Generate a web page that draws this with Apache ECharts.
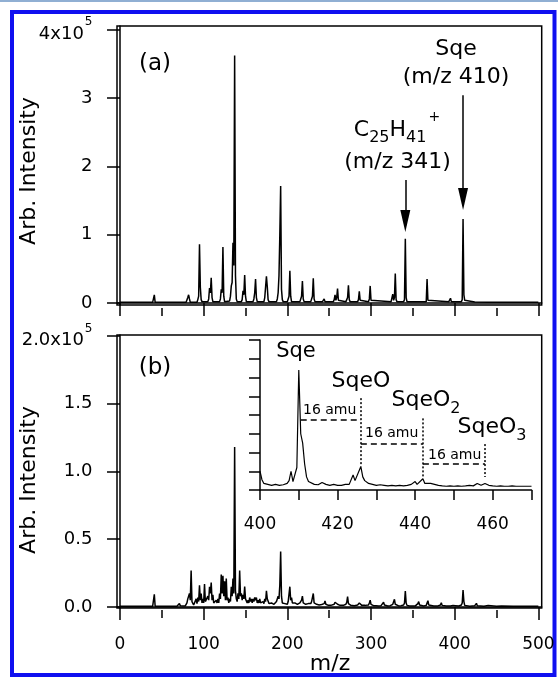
<!DOCTYPE html>
<html>
<head>
<meta charset="utf-8">
<script src="https://cdn.jsdelivr.net/npm/echarts@6/dist/echarts.min.js"></script>
<style>
html, body { margin: 0; padding: 0; background: #fff; }
#main { width: 558px; height: 678px; }
</style>
</head>
<body>
<div id="main"></div>
<script>
// (a) spectrum, [m/z, intensity in 1e5]
var specA = [
  [0,0.01],[39,0.01],[40,0.02],[41,0.12],[42,0.01],[68,0.01],[69,0.02],[70,0.01],
  [79,0.01],[80,0.03],[81,0.08],[82,0.12],[83,0.06],[84,0.01],
  [92,0.01],[93,0.05],[94,0.1],[95,0.86],[96,0.23],[97,0.05],[98,0.02],
  [105,0.02],[106,0.06],[107,0.22],[108,0.15],[109,0.37],[110,0.08],[111,0.02],
  [119,0.02],[120,0.06],[121,0.2],[122,0.15],[123,0.82],[124,0.1],[125,0.02],
  [131,0.03],[132,0.1],[133,0.25],[134,0.3],[135,0.88],[136,0.55],[137,3.62],[138,0.4],[139,0.06],[140,0.02],
  [145,0.02],[146,0.05],[147,0.18],[148,0.12],[149,0.41],[150,0.1],[151,0.02],
  [159,0.02],[160,0.06],[161,0.15],[162,0.35],[163,0.08],[164,0.02],
  [172,0.02],[173,0.08],[174,0.1],[175,0.39],[176,0.24],[177,0.05],[178,0.02],
  [187,0.02],[188,0.06],[189,0.15],[190,0.4],[191,0.99],[192,1.71],[193,0.2],[194,0.05],[195,0.02],
  [200,0.02],[201,0.06],[202,0.1],[203,0.47],[204,0.1],[205,0.02],
  [215,0.02],[216,0.06],[217,0.1],[218,0.32],[219,0.06],[220,0.02],
  [228,0.02],[229,0.06],[230,0.1],[231,0.36],[232,0.06],[233,0.02],
  [242,0.02],[243,0.03],[244,0.06],[245,0.02],
  [255,0.02],[256,0.05],[257,0.12],[258,0.04],[259,0.08],[260,0.21],[261,0.04],[262,0.02],
  [270,0.02],[271,0.05],[272,0.08],[273,0.26],[274,0.05],[275,0.02],
  [284,0.02],[285,0.05],[286,0.17],[287,0.04],[288,0.02],
  [297,0.02],[298,0.06],[299,0.25],[300,0.04],[301,0.02],
  [324,0.02],[325,0.04],[326,0.13],[327,0.04],[328,0.08],[329,0.43],[330,0.05],[331,0.02],
  [339,0.02],[340,0.05],[341,0.94],[342,0.08],[343,0.02],
  [353,0.02],[354,0.04],[355,0.02],[366,0.02],[367,0.35],[368,0.04],[369,0.02],
  [393,0.02],[394,0.03],[395,0.07],[396,0.02],
  [408,0.02],[409,0.05],[410,1.23],[411,0.12],[412,0.04],[413,0.02],
  [424,0.015],[425,0.03],[426,0.012],[440,0.01],[500,0.01]
];

// (b) spectrum, [m/z, intensity in 1e5]
var specB = [
  [0,0.005],[39,0.005],[40,0.01],[41,0.094],[42,0.005],[68,0.005],[69,0.015],[70,0.01],[71,0.025],[72,0.01],[73,0.005],
  [78,0.008],[79,0.02],[80,0.03],[81,0.06],[82,0.08],[83,0.1],[84,0.05],[85,0.27],[86,0.04],[87,0.03],[88,0.015],
  [89,0.02],[90,0.015],[91,0.06],[92,0.025],[93,0.07],[94,0.04],[95,0.16],[96,0.05],[97,0.1],[98,0.03],[99,0.06],
  [100,0.03],[101,0.17],[102,0.04],[103,0.05],[104,0.03],[105,0.08],[106,0.05],[107,0.15],[108,0.1],[109,0.18],
  [110,0.05],[111,0.09],[112,0.03],[113,0.04],[114,0.02],[115,0.05],[116,0.03],[117,0.06],[118,0.03],[119,0.1],
  [120,0.06],[121,0.24],[122,0.1],[123,0.23],[124,0.08],[125,0.19],[126,0.05],[127,0.21],[128,0.05],[129,0.07],
  [130,0.03],[131,0.06],[132,0.04],[133,0.15],[134,0.08],[135,0.21],[136,0.1],[137,1.18],[138,0.12],[139,0.06],
  [140,0.04],[141,0.1],[142,0.06],[143,0.27],[144,0.08],[145,0.1],[146,0.05],[147,0.09],[148,0.06],[149,0.15],
  [150,0.06],[151,0.05],[152,0.03],[153,0.05],[154,0.03],[155,0.07],[156,0.04],[157,0.06],[158,0.03],[159,0.06],
  [160,0.04],[161,0.07],[162,0.05],[163,0.07],[164,0.03],[165,0.05],[166,0.03],[167,0.06],[168,0.03],[169,0.04],
  [170,0.03],[171,0.04],[172,0.025],[173,0.06],[174,0.04],[175,0.12],[176,0.06],[177,0.05],[178,0.025],[179,0.03],
  [180,0.02],[181,0.03],[182,0.02],[183,0.03],[184,0.02],[185,0.03],[186,0.025],[187,0.04],[188,0.03],[189,0.08],
  [190,0.06],[191,0.16],[192,0.41],[193,0.08],[194,0.03],[195,0.025],[196,0.02],[197,0.025],[198,0.02],[199,0.03],
  [200,0.02],[201,0.04],[202,0.03],[203,0.15],[204,0.05],[205,0.07],[206,0.03],[207,0.04],[208,0.025],[209,0.03],
  [210,0.02],[211,0.03],[212,0.02],[213,0.025],[214,0.02],[215,0.03],[216,0.03],[217,0.05],[218,0.08],[219,0.03],
  [220,0.02],[221,0.025],[222,0.02],[223,0.03],[224,0.02],[225,0.025],[226,0.02],[227,0.02],[228,0.025],[229,0.04],
  [230,0.035],[231,0.1],[232,0.03],[233,0.02],[234,0.018],[235,0.02],[236,0.015],[237,0.018],[238,0.015],[239,0.02],
  [240,0.015],[241,0.018],[242,0.02],[243,0.03],[244,0.025],[245,0.044],[246,0.02],[247,0.015],[248,0.015],[249,0.012],
  [250,0.015],[252,0.012],[254,0.015],[256,0.02],[257,0.035],[258,0.025],[259,0.046],[260,0.02],[261,0.015],
  [263,0.012],[265,0.015],[267,0.012],[269,0.015],[270,0.02],[271,0.035],[272,0.076],[273,0.025],[274,0.015],
  [276,0.012],[278,0.012],[280,0.01],[282,0.012],[284,0.015],[285,0.025],[286,0.03],[287,0.04],[288,0.02],[289,0.012],
  [291,0.01],[293,0.012],[295,0.01],[297,0.015],[298,0.03],[299,0.05],[300,0.02],[301,0.012],[303,0.01],[306,0.01],
  [309,0.008],[312,0.01],[314,0.015],[315,0.035],[316,0.015],[317,0.01],[320,0.008],[323,0.01],[326,0.02],[327,0.03],
  [328,0.057],[329,0.02],[330,0.01],[333,0.008],[336,0.01],[339,0.015],[340,0.03],[341,0.118],[342,0.03],[343,0.012],
  [346,0.008],[350,0.008],[353,0.008],[355,0.015],[356,0.025],[357,0.04],[358,0.015],[359,0.008],[363,0.008],
  [366,0.012],[367,0.025],[368,0.046],[369,0.015],[370,0.008],[375,0.007],[380,0.008],[383,0.015],[384,0.032],
  [385,0.012],[386,0.007],[390,0.007],[395,0.008],[398,0.012],[399,0.015],[400,0.022],[401,0.01],[405,0.007],
  [408,0.015],[409,0.03],[410,0.125],[411,0.04],[412,0.012],[413,0.007],[418,0.006],[424,0.01],[425,0.015],
  [426,0.027],[427,0.01],[428,0.006],[435,0.006],[440,0.012],[441,0.006],[450,0.005],[456,0.008],[457,0.005],
  [470,0.005],[485,0.005],[500,0.005]
];

// inset, m/z 400-470, arbitrary units
var insetSpec = [
  [400,1.0],[400.5,0.55],[401,0.35],[402,0.3],[403,0.25],[404,0.3],[405,0.25],[406,0.28],[407,0.35],[407.5,0.5],
  [408,1.0],[408.5,0.45],[409,0.4],[409.5,1.2],[410,6.4],[410.5,3.0],[411,2.5],[411.5,1.4],[412,0.7],[412.5,0.45],
  [413,0.35],[414,0.3],[415,0.28],[416,0.4],[417,0.3],[418,0.25],[419,0.3],[420,0.25],[421,0.25],[422,0.3],
  [423,0.3],[424,0.8],[424.5,0.5],[425,0.45],[426,1.25],[426.5,0.7],[427,0.5],[428,0.35],[429,0.3],[430,0.25],
  [431,0.28],[432,0.25],[433,0.22],[434,0.25],[435,0.22],[436,0.25],[437,0.22],[438,0.25],[439,0.3],[440,0.45],
  [440.5,0.3],[441,0.3],[442,0.6],[442.5,0.35],[443,0.3],[444,0.35],[445,0.3],[446,0.25],[447,0.22],[448,0.2],
  [449,0.22],[450,0.2],[451,0.22],[452,0.2],[453,0.22],[454,0.25],[455,0.22],[456,0.35],[457,0.25],[458,0.35],
  [459,0.25],[460,0.22],[461,0.2],[462,0.22],[463,0.2],[464,0.2],[465,0.22],[466,0.2],[467,0.2],[468,0.2],
  [469,0.2],[470,0.2]
];

var majorTicks = [0, 100, 200, 300, 400, 500];
var minorTicks = [50, 150, 250, 350, 450];
var ticksA = [0, 1, 2, 3, 4];
var ticksB = [0, 0.5, 1, 1.5, 2];
var insetXTicks = [400, 410, 420, 430, 440, 450, 460, 470];
var insetXLabels = [400, 420, 440, 460];
var insetYTicks = [0, 1, 2, 3, 4, 5, 6, 7, 8];

// arrows in (a): [m/z, from, to]
var arrows = [[410, 3.04, 1.52], [341, 1.80, 1.20]];
// inset 16 amu brackets
var amuH = [[410.5, 426, 3.73], [426, 442, 2.49], [442, 458, 1.39]];
var amuV = [[426, 4.9, 1.25], [442, 3.82, 0.7], [458, 2.45, 0.7]];

var FONT = 'DejaVu Sans';
var chart = echarts.init(document.getElementById('main'));

function xAx(grid, ticks, len, opts) {
  var a = {
    type: 'value', gridIndex: grid, min: -3.6, max: 504, position: 'bottom',
    offset: opts.offset,
    axisLine: { show: opts.line, lineStyle: { color: '#000', width: 1.5 } },
    axisTick: { show: true, inside: false, length: len, customValues: ticks, lineStyle: { color: '#000', width: 1.5 } },
    axisLabel: { show: false },
    splitLine: { show: false }
  };
  if (opts.labels) {
    a.axisLabel = { show: true, customValues: ticks, color: '#000', fontSize: 17, fontFamily: FONT, margin: 26 };
  }
  return a;
}

// equal-height boxes so the raise does not depend on token alignment
var supRich = {
  b: { fontSize: 18, lineHeight: 18, fontFamily: FONT, color: '#000', padding: [9, 0, 0, 0] },
  s: { fontSize: 12, lineHeight: 12, fontFamily: FONT, color: '#000', padding: [0, 0, 15, 1] }
};

var arrowData = arrows.map(function (a) {
  return [{ coord: [a[0], a[1]], symbol: 'none' },
          { coord: [a[0], a[2]], symbol: 'triangle', symbolSize: [10, 22] }];
});
var amuData = amuH.map(function (h) {
  return [{ coord: [h[0], h[2]] }, { coord: [h[1], h[2]], lineStyle: { type: [6, 4], width: 1.5, color: '#000' } }];
}).concat(amuV.map(function (v) {
  return [{ coord: [v[0], v[1]] }, { coord: [v[0], v[2]], lineStyle: { type: [2, 2], width: 1.5, color: '#000' } }];
}));

function txt(x, y, text, size, extra) {
  var st = { text: text, x: x, y: y, fill: '#000', fontSize: size, fontFamily: FONT,
             align: 'center', verticalAlign: 'middle', textAlign: 'center', textVerticalAlign: 'middle' };
  if (extra) for (var k in extra) st[k] = extra[k];
  return { type: 'text', style: st, z: 100 };
}

var subRich = {
  m: { fontSize: 22, lineHeight: 22, fontFamily: FONT, color: '#000', padding: [0, 0, 5, 0] },
  d: { fontSize: 16, lineHeight: 16, fontFamily: FONT, color: '#000', padding: [11, 0, 0, 0] }
};
var c25Rich = {
  m: { fontSize: 22, lineHeight: 22, fontFamily: FONT, color: '#000', padding: [9, 0, 5, 0] },
  d: { fontSize: 16, lineHeight: 16, fontFamily: FONT, color: '#000', padding: [20, 0, 0, 0] },
  p: { fontSize: 14, lineHeight: 14, fontFamily: FONT, color: '#000', padding: [0, 0, 22, 2] }
};

chart.setOption({
  animation: false,
  backgroundColor: '#fff',
  grid: [
    { left: 117, top: 26, width: 424.7, height: 279, show: true, borderColor: '#000', borderWidth: 1.5, backgroundColor: 'transparent' },
    { left: 117, top: 335, width: 424.7, height: 273, show: true, borderColor: '#000', borderWidth: 1.5, backgroundColor: 'transparent' },
    { left: 260, top: 340, width: 271.5, height: 150, show: false }
  ],
  xAxis: [
    xAx(0, majorTicks, 13, { offset: 3, line: true }),
    xAx(0, minorTicks, 8, { offset: 3, line: false }),
    xAx(1, majorTicks, 13, { offset: 2, line: true, labels: true }),
    xAx(1, minorTicks, 8, { offset: 2, line: false }),
    {
      type: 'value', gridIndex: 2, min: 400, max: 470, position: 'bottom',
      axisLine: { show: true, lineStyle: { color: '#000', width: 1.5 } },
      axisTick: { show: true, length: 10, customValues: insetXTicks, lineStyle: { color: '#000', width: 1.5 } },
      axisLabel: { show: true, customValues: insetXLabels, color: '#000', fontSize: 17, fontFamily: FONT, margin: 26 },
      splitLine: { show: false }
    }
  ],
  yAxis: [
    {
      type: 'value', gridIndex: 0, min: -0.029, max: 4.051,
      axisLine: { show: true, lineStyle: { color: '#000', width: 1.5 } },
      axisTick: { show: true, length: 13, customValues: ticksA, lineStyle: { color: '#000', width: 1.5 } },
      axisLabel: {
        show: true, customValues: ticksA, color: '#000', fontSize: 18, fontFamily: FONT, margin: 24.5,
        formatter: function (v) { return v === 4 ? '{b|4x10}{s|5}' : String(v); },
        rich: supRich
      },
      splitLine: { show: false }
    },
    {
      type: 'value', gridIndex: 1, min: -0.0074, max: 2.0074,
      axisLine: { show: true, lineStyle: { color: '#000', width: 1.5 } },
      axisTick: { show: true, length: 13, customValues: ticksB, lineStyle: { color: '#000', width: 1.5 } },
      axisLabel: {
        show: true, customValues: ticksB, color: '#000', fontSize: 18, fontFamily: FONT, margin: 24.5,
        formatter: function (v) { return v === 2 ? '{b|2.0x10}{s|5}' : v.toFixed(1); },
        rich: supRich
      },
      splitLine: { show: false }
    },
    {
      type: 'value', gridIndex: 2, min: 0, max: 8,
      axisLine: { show: true, lineStyle: { color: '#000', width: 1.5 } },
      axisTick: { show: true, length: 11, customValues: insetYTicks, lineStyle: { color: '#000', width: 1.5 } },
      axisLabel: { show: false },
      splitLine: { show: false }
    }
  ],
  series: [
    {
      type: 'line', xAxisIndex: 0, yAxisIndex: 0, data: specA, showSymbol: false, symbol: 'none',
      lineStyle: { color: '#000', width: 1.5 }, silent: true,
      markLine: {
        silent: true, animation: false, symbol: ['none', 'triangle'],
        label: { show: false },
        lineStyle: { color: '#000', width: 1.5, type: 'solid' },
        itemStyle: { color: '#000' },
        data: arrowData
      }
    },
    {
      type: 'line', xAxisIndex: 2, yAxisIndex: 1, data: specB, showSymbol: false, symbol: 'none',
      lineStyle: { color: '#000', width: 1.5 }, silent: true
    },
    {
      type: 'line', xAxisIndex: 4, yAxisIndex: 2, data: insetSpec, showSymbol: false, symbol: 'none',
      lineStyle: { color: '#000', width: 1.2 }, silent: true,
      markLine: {
        silent: true, animation: false, symbol: 'none',
        label: { show: false },
        data: amuData
      }
    }
  ],
  graphic: [
    { type: 'line', shape: { x1: 0, y1: 1, x2: 558, y2: 1 }, style: { stroke: '#6b94c4', lineWidth: 1.5 } },
    { type: 'rect', shape: { x: 12, y: 12, width: 542.5, height: 663 }, style: { fill: 'none', stroke: '#1010f0', lineWidth: 4 } },
    { type: 'text', x: 29, y: 171, rotation: Math.PI / 2, z: 100,
      style: { text: 'Arb. Intensity', fill: '#000', fontSize: 22, fontFamily: FONT, align: 'center', verticalAlign: 'middle', textAlign: 'center', textVerticalAlign: 'middle' } },
    { type: 'text', x: 29, y: 480, rotation: Math.PI / 2, z: 100,
      style: { text: 'Arb. Intensity', fill: '#000', fontSize: 22, fontFamily: FONT, align: 'center', verticalAlign: 'middle', textAlign: 'center', textVerticalAlign: 'middle' } },
    txt(330, 664, 'm/z', 22),
    txt(155, 64, '(a)', 23),
    txt(155, 368, '(b)', 23),
    txt(456, 49, 'Sqe', 22),
    txt(456, 77, '(m/z 410)', 22),
    txt(397, 128, '{m|C}{d|25}{m|H}{d|41}{p|+}', 22, { rich: c25Rich }),
    txt(397.5, 162, '(m/z 341)', 22),
    txt(296, 352, 'Sqe', 21),
    txt(361, 381, 'SqeO', 22),
    txt(426, 403, '{m|SqeO}{d|2}', 22, { rich: subRich }),
    txt(492, 430, '{m|SqeO}{d|3}', 22, { rich: subRich }),
    txt(303, 410, '16 amu', 14, { align: 'left', textAlign: 'left' }),
    txt(365, 433, '16 amu', 14, { align: 'left', textAlign: 'left' }),
    txt(428, 455, '16 amu', 14, { align: 'left', textAlign: 'left' })
  ]
});
</script>
</body>
</html>
